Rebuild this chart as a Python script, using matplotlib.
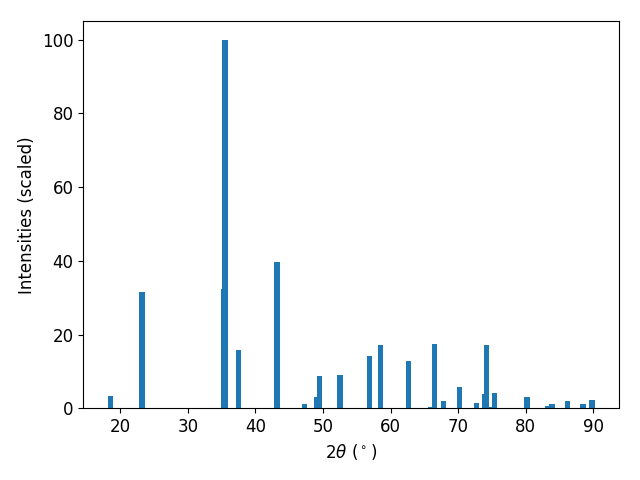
import matplotlib.pyplot as plt

two_theta = [18.5, 23.2, 35.3, 35.5, 37.5, 43.2, 47.3, 49.0, 49.5, 52.5,
             56.9, 58.5, 62.7, 65.9, 66.5, 67.8, 70.2, 72.7, 74.0, 74.2,
             74.8, 75.4, 80.2, 83.3, 83.9, 86.2, 88.5, 89.8]
intensity = [3.5, 31.6, 32.4, 100.0, 15.9, 39.7, 1.1, 3.2, 8.9, 9.2,
             14.3, 17.3, 13.0, 0.3, 17.6, 1.9, 5.7, 1.4, 3.8, 17.3,
             0.3, 4.1, 3.2, 0.8, 1.1, 1.9, 1.1, 2.4]

plt.rcParams['font.size'] = 12
fig = plt.figure(figsize=(6.4, 4.8), dpi=100)
plt.bar(two_theta, intensity)
plt.xlabel(r"2$\theta$ ($^\circ$)")
plt.ylabel("Intensities (scaled)")
plt.subplots_adjust(left=0.13, right=0.967, top=0.956, bottom=0.149)
plt.savefig("out.png")
